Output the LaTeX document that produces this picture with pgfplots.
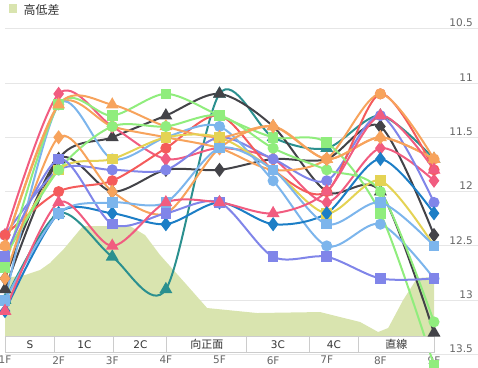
\documentclass[border=0pt]{standalone}
\usepackage{fontspec}
\setmainfont{DejaVu Sans}
\newfontfamily\cjk{Noto Sans CJK JP}
\usepackage{pgfplots}
\usepackage{pgfplotstable}
\pgfplotsset{compat=1.18}
\definecolor{lb}{HTML}{7CB5EC}
\definecolor{dk}{HTML}{434348}
\definecolor{gr}{HTML}{90ED7D}
\definecolor{or}{HTML}{F7A35C}
\definecolor{pu}{HTML}{8085E9}
\definecolor{pk}{HTML}{F15C80}
\definecolor{ye}{HTML}{E4D354}
\definecolor{te}{HTML}{2B908F}
\definecolor{rd}{HTML}{F45B5B}
\definecolor{bl}{HTML}{1C7EC6}
\definecolor{areac}{RGB}{217,228,175}
\definecolor{gridc}{HTML}{E6E6E6}
\definecolor{labc}{HTML}{666666}
\definecolor{txtc}{HTML}{333333}
\definecolor{bandc}{HTML}{CCCCCC}

\pgfplotstableread{
x pkD orT grS orD puS grC rdC pkT lbS dkT dkD yeS puC blD teT orC lbC
0 12.4 12.5 12.7 12.8 12.6 12.6 12.4 13.1 13.0 12.9 12.8 12.6 12.4 13.1 13.0 12.5 13.0
1 11.1 11.2 11.2 11.5 11.7 11.8 12.0 12.1 12.2 11.7 11.7 11.8 11.8 12.2 12.2 11.2 11.2
2 11.4 11.2 11.3 12.0 12.3 11.4 11.9 12.5 12.1 11.5 12.0 11.7 11.8 12.2 12.6 11.4 11.7
3 11.7 11.4 11.1 12.2 12.2 11.4 11.6 12.1 12.1 11.3 11.8 11.5 11.8 12.3 12.9 11.5 11.5
4 11.6 11.5 11.3 11.6 12.1 11.3 11.3 12.1 11.6 11.1 11.8 11.5 11.5 12.1 11.1 11.6 11.4
5 11.7 11.4 11.5 11.4 12.6 11.6 11.8 12.2 11.8 11.4 11.7 11.8 11.7 12.3 11.5 11.8 11.9
6 12.1 11.7 11.55 11.7 12.6 11.8 12.0 12.0 12.3 12.0 11.7 12.2 11.9 12.2 11.6 11.7 12.5
7 11.6 11.5 12.2 11.5 12.8 12.0 11.1 11.3 12.1 12.0 11.4 11.9 11.3 11.7 11.3 11.1 12.3
8 11.9 11.7 13.6 11.7 12.8 13.2 11.8 11.8 12.5 13.3 12.4 12.5 12.1 12.2 11.7 11.7 12.8
}\laps

\pgfplotstableread{
x v
0 12.796
0.373 12.768
0.653 12.722
0.840 12.657
1.082 12.537
1.455 12.317
2.332 12.317
2.612 12.400
2.892 12.584
3.358 12.842
3.769 13.072
4.701 13.118
5.877 13.109
6.623 13.201
6.959 13.293
7.146 13.256
7.425 12.998
7.687 12.796
8.000 12.786
8.000 13.480
0.000 13.480
}\area

\begin{document}
\begin{tikzpicture}
\begin{axis}[
  name=ax, scale only axis,
  width=429pt, height=325.8pt,
  xmin=0, xmax=8, ymin=10.5, ymax=13.5, y dir=reverse,
  clip=false,
  axis line style={draw=none},
  major tick length=0pt,
  xtick={0,...,8}, xticklabels={1F,2F,3F,4F,5F,6F,7F,8F,9F},
  ytick={10.5,11,11.5,12,12.5,13,13.5},
  yticklabel pos=right,
  /pgf/number format/assume math mode=true,
  yticklabel style={anchor=south east, inner sep=0pt, xshift=39pt, yshift=1.5pt, font=\fontsize{10.5}{12}\selectfont, text=labc},
  xticklabel style={anchor=north, inner sep=0pt, yshift=-1.5pt, font=\fontsize{10.5}{12}\selectfont, text=labc},
  ser/.style={smooth, tension=0.5, line width=2pt, mark options={solid}},
]
\coordinate (bl) at (axis cs:0,13.5);
\pgfplotsinvokeforeach{10.5,11,11.5,12,12.5,13,13.5}{
  \draw[gridc, line width=1pt] (axis cs:0,#1) -- ([xshift=44pt]axis cs:8,#1);
}
\addplot[fill=areac, draw=none, line width=0pt] table[x=x,y=v] {\area} -- cycle;

\addplot[ser, color=te, mark=triangle*, mark size=5.5pt] table[x=x,y=teT] {\laps};
\addplot[ser, color=dk, mark=diamond*, mark size=5.5pt] table[x=x,y=dkD] {\laps};
\addplot[ser, color=dk, mark=triangle*, mark size=5.5pt] table[x=x,y=dkT] {\laps};
\addplot[ser, color=pk, mark=diamond*, mark size=5.5pt] table[x=x,y=pkD] {\laps};
\addplot[ser, color=pu, mark=*, mark size=4.5pt] table[x=x,y=puC] {\laps};
\addplot[ser, color=rd, mark=*, mark size=4.5pt] table[x=x,y=rdC] {\laps};
\addplot[ser, color=or, mark=*, mark size=4.5pt] table[x=x,y=orC] {\laps};
\addplot[ser, color=lb, mark=*, mark size=4.5pt] table[x=x,y=lbC] {\laps};
\addplot[ser, color=gr, mark=square*, mark size=4.3pt] table[x=x,y=grS] {\laps};
\addplot[ser, color=or, mark=triangle*, mark size=5.5pt] table[x=x,y=orT] {\laps};
\addplot[ser, color=ye, mark=square*, mark size=4.3pt] table[x=x,y=yeS] {\laps};
\addplot[ser, color=gr, mark=*, mark size=4.5pt] table[x=x,y=grC] {\laps};
\addplot[ser, color=or, mark=diamond*, mark size=5.5pt] table[x=x,y=orD] {\laps};
\addplot[ser, color=bl, mark=diamond*, mark size=5.5pt] table[x=x,y=blD] {\laps};
\addplot[ser, color=pu, mark=square*, mark size=4.3pt] table[x=x,y=puS] {\laps};
\addplot[ser, color=lb, mark=square*, mark size=4.3pt] table[x=x,y=lbS] {\laps};
\addplot[ser, color=pk, mark=triangle*, mark size=5.5pt] table[x=x,y=pkT] {\laps};

% course section band
\draw[bandc, fill=white, line width=1pt] (axis cs:0,13.33) rectangle (axis cs:8,13.481);
\pgfplotsinvokeforeach{0.93,2.03,3.02,4.51,5.67,6.60}{
  \draw[bandc, line width=1pt] (axis cs:#1,13.33) -- (axis cs:#1,13.481);
}
\node[text=txtc, font=\fontsize{10.5}{12}\selectfont, inner sep=0pt] at (axis cs:0.465,13.405) {S};
\node[text=txtc, font=\fontsize{10.5}{12}\selectfont, inner sep=0pt] at (axis cs:1.48,13.405) {1C};
\node[text=txtc, font=\fontsize{10.5}{12}\selectfont, inner sep=0pt] at (axis cs:2.525,13.405) {2C};
\node[text=txtc, font=\fontsize{10.5}{12}\selectfont, inner sep=0pt] at (axis cs:5.09,13.405) {3C};
\node[text=txtc, font=\fontsize{10.5}{12}\selectfont, inner sep=0pt] at (axis cs:6.135,13.405) {4C};
\node[text=txtc, font=\cjk\fontsize{11}{12}\selectfont, inner sep=0pt] at (axis cs:3.765,13.405) {向正面};
\node[text=txtc, font=\cjk\fontsize{11}{12}\selectfont, inner sep=0pt] at (axis cs:7.30,13.405) {直線};
\end{axis}
\pgfresetboundingbox
\path[use as bounding box] ([shift={(-5pt,-12.5pt)}]bl) rectangle ([shift={(473pt,354.5pt)}]bl);
\begin{scope}[shift={([shift={(-5pt,-12.5pt)}]bl)}, x=1pt, y=1pt]
\fill[areac] (9,354) rectangle (17,362.5);
\node[anchor=west, inner sep=0pt, text=txtc, font=\cjk\fontsize{12}{14}\selectfont] at (23.5,357.5) {高低差};
\end{scope}
\end{tikzpicture}
\end{document}
